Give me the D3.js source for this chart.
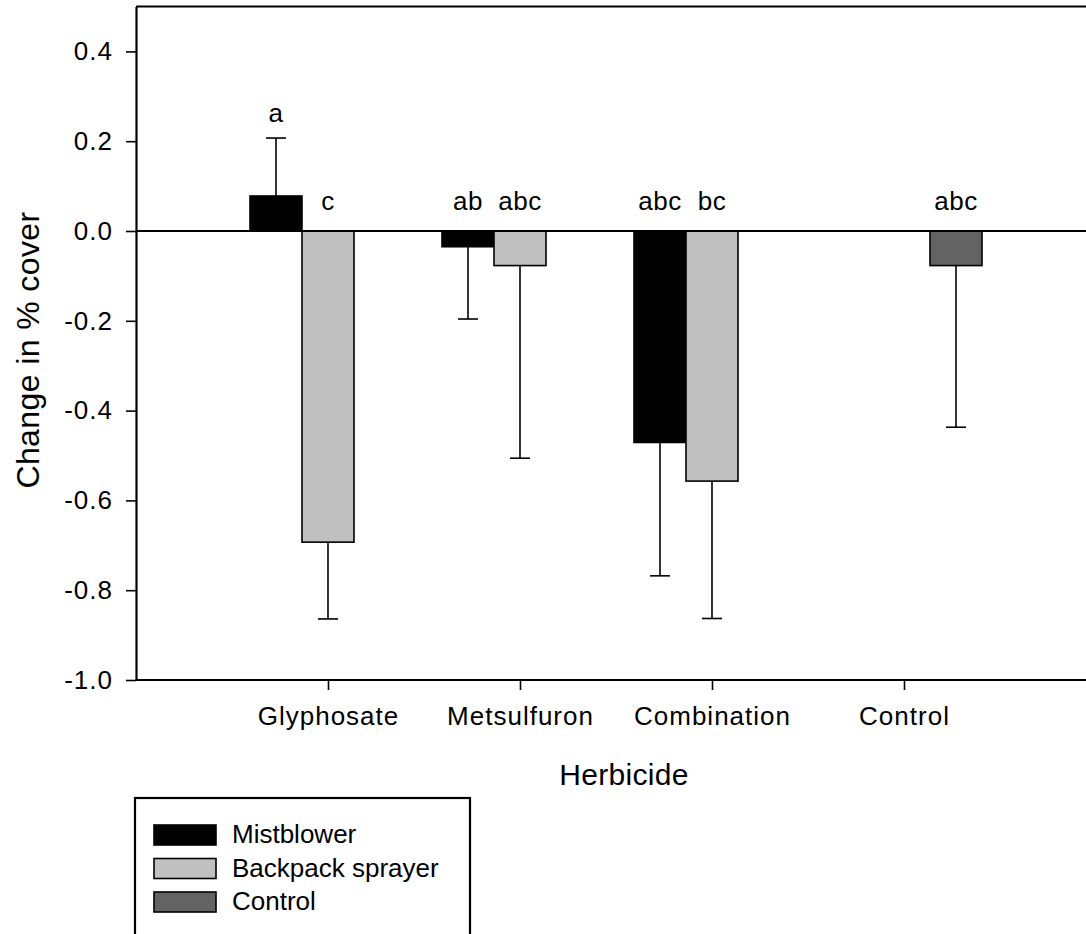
<!DOCTYPE html>
<html>
<head>
<meta charset="utf-8">
<script src="https://cdn.jsdelivr.net/npm/d3@7"></script>
<style>
  html, body { margin: 0; padding: 0; background: #fff; }
  svg { display: block; }
  text { font-family: Arial, "Liberation Sans", sans-serif; fill: #000; }
</style>
</head>
<body>
<svg id="chart" width="1086" height="934"></svg>
<script>
// ---- data ----
const categories = ["Glyphosate", "Metsulfuron", "Combination", "Control"];
const seriesNames = ["Mistblower", "Backpack sprayer", "Control"];
const mistblower = [0.078, -0.035, -0.471, null];
const backpack = [-0.693, -0.077, -0.557, null];
const control = [null, null, null, -0.077];
const mistblowerErr = [0.129, 0.161, 0.297, null];
const backpackErr = [0.171, 0.429, 0.306, null];
const controlErr = [null, null, null, 0.36];
const mistblowerLetters = ["a", "ab", "abc", null];
const backpackLetters = ["c", "abc", "bc", null];
const controlLetters = [null, null, null, "abc"];
const yTicks = [0.4, 0.2, 0.0, -0.2, -0.4, -0.6, -0.8, -1.0];
const colors = ["#000000", "#c0c0c0", "#636363"];

const seriesValues = [mistblower, backpack, control];
const seriesErrs = [mistblowerErr, backpackErr, controlErr];
const seriesLetters = [mistblowerLetters, backpackLetters, controlLetters];

// ---- layout ----
const W = 1086, H = 934;
const mLeft = 136, mRight = 1096, mTop = 6.5, mBottom = 680;
const FONT = 'Arial, "Liberation Sans", sans-serif';
const svg = d3.select("#chart");

const x = d3.scalePoint().domain(categories).range([mLeft, mRight]).padding(1);
const inner = d3.scaleBand().domain(seriesNames).range([-78, 78]).padding(0);
const y = d3.scaleLinear().domain([-1.0, 0.5]).range([mBottom, mTop]);

// bars
seriesNames.forEach((s, si) => {
  const rows = categories.map((c, ci) => ({
    c, v: seriesValues[si][ci], e: seriesErrs[si][ci], l: seriesLetters[si][ci]
  })).filter(d => d.v !== null);

  const g = svg.append("g");
  g.selectAll("rect").data(rows).join("rect")
    .attr("x", d => x(d.c) + inner(s))
    .attr("y", d => y(Math.max(0, d.v)))
    .attr("width", inner.bandwidth())
    .attr("height", d => Math.abs(y(d.v) - y(0)))
    .attr("fill", colors[si])
    .attr("stroke", "#000")
    .attr("stroke-width", 1.6);

  // error bars (one-sided, away from zero)
  rows.forEach(d => {
    const cx = x(d.c) + inner(s) + inner.bandwidth() / 2;
    const end = d.v >= 0 ? d.v + d.e : d.v - d.e;
    g.append("line")
      .attr("x1", cx).attr("x2", cx)
      .attr("y1", y(d.v)).attr("y2", y(end))
      .attr("stroke", "#000").attr("stroke-width", 1.6);
    g.append("line")
      .attr("x1", cx - 10).attr("x2", cx + 10)
      .attr("y1", y(end)).attr("y2", y(end))
      .attr("stroke", "#000").attr("stroke-width", 1.6);
    if (d.l) {
      const ly = d.v >= 0 ? y(end) - 16 : y(0) - 21;
      g.append("text")
        .attr("x", cx).attr("y", ly)
        .attr("text-anchor", "middle")
        .attr("font-size", 26)
        .attr("letter-spacing", 0.5)
        .text(d.l);
    }
  });
});

// zero line
svg.append("line")
  .attr("x1", mLeft).attr("x2", W)
  .attr("y1", y(0)).attr("y2", y(0))
  .attr("stroke", "#000").attr("stroke-width", 2);

// frame: top line
svg.append("line")
  .attr("x1", mLeft).attr("x2", W)
  .attr("y1", y(0.5)).attr("y2", y(0.5))
  .attr("stroke", "#000").attr("stroke-width", 2.2);

// y axis
const yAxis = svg.append("g")
  .attr("transform", `translate(${mLeft},0)`)
  .call(d3.axisLeft(y).tickValues(yTicks).tickFormat(d => d.toFixed(1))
    .tickSize(10).tickSizeOuter(0).tickPadding(13));
yAxis.select(".domain").attr("stroke-width", 2.2);
yAxis.selectAll(".tick line").attr("stroke-width", 1.6);
yAxis.selectAll("text").attr("font-size", 26).attr("letter-spacing", 1)
  .attr("font-family", FONT).attr("fill", "#000");

// x axis
const xAxis = svg.append("g")
  .attr("transform", `translate(0,${mBottom})`)
  .call(d3.axisBottom(x).tickSize(10).tickSizeOuter(0).tickPadding(17));
xAxis.select(".domain").attr("d", `M${mLeft},0H${W}`).attr("stroke-width", 2.2);
xAxis.selectAll(".tick line").attr("stroke-width", 1.6);
xAxis.selectAll("text").attr("font-size", 26).attr("letter-spacing", 1)
  .attr("font-family", FONT).attr("fill", "#000");

// axis titles
svg.append("text")
  .attr("x", 624).attr("y", 785)
  .attr("text-anchor", "middle")
  .attr("font-size", 30)
  .attr("letter-spacing", 0.3)
  .text("Herbicide");
svg.append("text")
  .attr("transform", `translate(39,350) rotate(-90)`)
  .attr("text-anchor", "middle")
  .attr("font-size", 32)
  .attr("letter-spacing", 0.4)
  .text("Change in % cover");

// legend
const lg = svg.append("g");
lg.append("rect")
  .attr("x", 135).attr("y", 798)
  .attr("width", 335).attr("height", 160)
  .attr("fill", "none").attr("stroke", "#000").attr("stroke-width", 2.2);
seriesNames.forEach((s, i) => {
  const yy = 825 + i * 33.5;
  lg.append("rect")
    .attr("x", 154).attr("y", yy)
    .attr("width", 62).attr("height", 20)
    .attr("fill", colors[i]).attr("stroke", "#000").attr("stroke-width", 1.6);
  lg.append("text")
    .attr("x", 232).attr("y", yy + 18)
    .attr("font-size", 26)
    .text(s);
});
</script>
</body>
</html>
